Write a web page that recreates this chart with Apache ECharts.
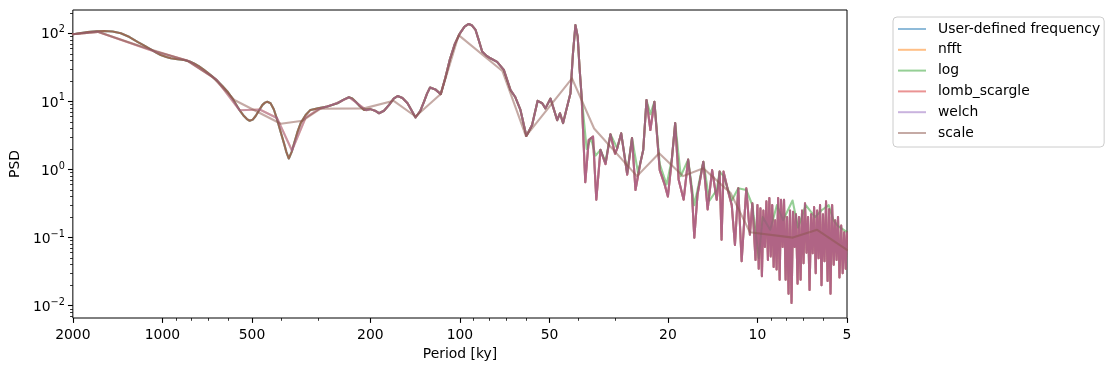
<!DOCTYPE html>
<html><head><meta charset="utf-8">
<script src="https://cdn.jsdelivr.net/npm/echarts@6/dist/echarts.min.js"></script>
<style>html,body{margin:0;padding:0;background:#fff}#c{width:1115px;height:371px}</style>
</head><body><div id="c"></div>
<script>
const seriesNames = ['User-defined frequency', 'nfft', 'log', 'lomb_scargle', 'welch', 'scale'];

// dense spectrum (periods in ky, PSD)
const mainPeriod = [2000,1900,1785,1670,1570,1470,1380,1290,1213,1150,1095,1050,1013,970,937,890,846,810,783,755,725,690,653,630,605,580,560,545,532,520,509,497,486,473,461,452,444,438,433,422,411,400,390,383,376,368,361,352,343,330,318,300,279,258,246,236,230,224,217,210,200,193,187,180,173,167,162,156,150,145,141,136,132,129,126,121,116,112,108,104,100,96.5,93.4,91,88.6,86.5,84.2,81.5,79,75,71.2,67.6,65.1,62.6,59.8,57.2,54.8,52.9,51.6,49.6,47.1,46.1,45.0,43.9,42.5,41.7,40.9,40.2,39.6,39.0,37.9,36.9,35.7,34.8,33.7,32.4,31.2,30.1,29.6,28.7,27.4,26.4,25.7,24.75,24.2,23.6,22.9,22.2,21.3,20.5,20.0,19.4,18.9,18.4,17.7,17.1,16.6,16.3,15.9,15.2,14.7,14.2,13.7,13.4,13.2,13.0,12.5,12.2,11.9,11.6,11.3,10.9,10.6,10.4,
  10.15,10.0,9.9,9.77,9.66,9.55,9.44,9.33,9.22,9.12,9.02,8.92,8.82,8.72,8.62,8.52,8.42,8.33,8.23,8.14,8.04,7.95,7.86,7.77,7.68,7.59,7.50,7.42,7.33,7.25,7.16,7.08,7.00,6.92,6.84,6.76,6.68,6.60,6.52,6.45,6.37,6.30,6.23,6.16,6.09,6.02,5.95,5.88,5.81,5.74,5.68,5.61,5.54,5.48,5.42,5.36,5.30,5.23,5.17,5.11,5.05,5.0];
const mainPsd = [97,100,104,107,108,106,100,88,75,66,58,52,48,45,43,41.5,40.5,38.5,36,33,29,24.5,20,17,14,10.8,8.4,7,6.1,5.5,5.2,5.4,6.1,7.4,8.9,9.6,9.9,9.8,9.4,7.6,5.3,3.5,2.4,1.8,1.45,1.8,2.4,3.5,4.8,6.3,7.5,7.9,8.4,9.4,10.6,11.5,11,9.9,8.5,7.5,7.7,7.3,6.7,7.3,8.9,11,12,11.2,9.4,7.2,5.8,7.2,9.9,13,16,15,12.8,22,42,70,100,125,137,130,112,80,54,47,43,38,29,14.7,11.5,7.5,3.1,4.5,10.2,9.4,7.9,11,5.3,6.7,4.8,7.5,13.2,50,132,90,30,12,0.65,2.7,3.05,0.36,1.94,1.2,3.3,1.7,2.05,3.4,0.84,2.9,0.5,1.24,1.94,10.5,3.8,9.9,0.98,0.6,0.4,1.4,4.8,0.71,0.36,1.4,0.45,0.1,0.43,1.3,0.26,0.98,0.36,0.93,0.093,0.93,0.45,0.3,0.078,0.53,0.045,0.53,0.11,0.32,
  0.047,0.30,0.035,0.27,0.027,0.25,0.073,0.34,0.047,0.38,0.053,0.3,0.037,0.18,0.034,0.38,0.024,0.36,0.073,0.36,0.024,0.2,0.015,0.25,0.011,0.24,0.073,0.22,0.021,0.2,0.024,0.25,0.042,0.32,0.06,0.2,0.017,0.22,0.059,0.28,0.03,0.25,0.05,0.3,0.02,0.22,0.045,0.34,0.023,0.26,0.015,0.3,0.04,0.18,0.047,0.2,0.026,0.15,0.03,0.12,0.035,0.12];

// coarse uniform-frequency part (nfft / welch) at long periods
const uniformLowPeriod = [2000,1650,1100,825,660,550,471,412,367,330,300,275,254,236,220,206];
const uniformLowPsd = [97,105,57,40,21,7.4,7.6,5.7,1.9,5.8,7.6,8.6,9.8,11.5,9.2,7.4];

// log-spaced frequencies at short periods
const logHighPeriod = [41.7,40.9,40.2,39.6,39.0,37.5,36.3,35.0,33.7,32.4,31.2,29.6,28.7,27.4,26.4,25.2,24.2,23.6,22.9,22.2,21.3,20.2,19.4,18.9,18.1,17.1,16.3,15.2,14.5,13.7,13.4,13.0,12.2,11.6,10.9,10.4,9.9,9.6,9.06,8.6,8.2,7.62,7.3,6.88,6.4,6.1,5.76,5.55,5.38,5.0];
const logHighPsd = [50,132,90,30,12,2.0,2.9,1.6,1.94,1.3,3.3,2.05,3.4,0.9,2.9,0.9,1.94,10.5,6.5,9.9,1.2,0.6,1.4,4.8,0.8,1.4,0.3,1.3,0.35,0.5,0.93,0.8,0.35,0.53,0.5,0.3,0.05,0.2,0.13,0.3,0.18,0.35,0.14,0.3,0.2,0.25,0.3,0.18,0.15,0.12];

// scale method
const scalePeriod = [2000,1650,1150,830,680,573,400,338,294,210,167,141,116,101,72,60,42,35.4,25.4,21.4,17.8,15.2,12.3,10.6,7.6,6.3,5.0];
const scalePsd = [97,105,62,40,23,10.5,4.7,5.2,7.8,7.9,10.2,6.0,12.8,94,28,3.1,21.8,4.0,0.8,1.73,0.8,1.04,0.45,0.12,0.1,0.13,0.066];

const xMajorTicks = [2000,1000,500,200,100,50,20,10,5];
const xMinorTicks = [900,800,700,600,400,300,90,80,70,60,40,30,9,8,7,6];
const yMajorTicks = [0.01,0.1,1,10,100];
const yMinorTicks = [0.007,0.008,0.009,0.02,0.03,0.04,0.05,0.06,0.07,0.08,0.09,0.2,0.3,0.4,0.5,0.6,0.7,0.8,0.9,2,3,4,5,6,7,8,9,20,30,40,50,60,70,80,90,200];

const colors = ['rgba(31,119,180,0.5)','rgba(255,127,14,0.5)','rgba(44,160,44,0.5)','rgba(214,39,40,0.5)','rgba(148,103,189,0.5)','rgba(140,86,75,0.5)'];

const zip = (a, b) => a.map((v, i) => [v, b[i]]);
const mainData = zip(mainPeriod, mainPsd);
const uniformData = zip(uniformLowPeriod, uniformLowPsd).concat(mainData.filter(d => d[0] <= 200));
const logData = mainData.filter(d => d[0] >= 42.5).concat(zip(logHighPeriod, logHighPsd));
const scaleData = zip(scalePeriod, scalePsd);
const dataSets = [mainData, uniformData, logData, mainData, uniformData, scaleData];

const FONT = 'DejaVu Sans';
const FS = 13.9;

const chart = echarts.init(document.getElementById('c'), null, {renderer: 'canvas'});
chart.setOption({
  animation: false,
  color: colors,
  grid: {left: 72, right: 268, top: 10, bottom: 53, show: true, borderColor: '#000', borderWidth: 1, backgroundColor: 'transparent'},
  legend: {
    orient: 'vertical', left: 893, top: 17,
    data: seriesNames,
    icon: 'rect', itemWidth: 28, itemHeight: 2, itemGap: 6.8,
    padding: [5, 4, 7, 5],
    borderColor: '#cccccc', borderWidth: 1, borderRadius: 4,
    backgroundColor: 'rgba(255,255,255,0.8)',
    textStyle: {fontFamily: FONT, fontSize: FS, color: '#000', padding: [0, 0, 0, 7]}
  },
  xAxis: [{
    type: 'log', inverse: true, min: 4.9999, max: 2000.001,
    name: 'Period [ky]', nameLocation: 'middle', nameGap: 28,
    nameTextStyle: {fontFamily: FONT, fontSize: FS, color: '#000'},
    axisLine: {show: false},
    splitLine: {show: false},
    axisTick: {show: true, length: 4.9, lineStyle: {color: '#000', width: 1.1}, customValues: xMajorTicks},
    axisLabel: {customValues: xMajorTicks, margin: 10, fontFamily: FONT, fontSize: FS, color: '#000',
      formatter: v => String(Math.round(v))}
  }, {
    type: 'log', inverse: true, min: 4.9999, max: 2000.001, position: 'bottom',
    axisLine: {show: false}, splitLine: {show: false},
    axisTick: {show: true, length: 2.8, lineStyle: {color: '#000', width: 0.8}, customValues: xMinorTicks},
    axisLabel: {show: false}
  }],
  yAxis: [{
    type: 'log', min: 0.0066, max: 219.8,
    name: 'PSD', nameLocation: 'middle', nameGap: 47, nameRotate: 90,
    nameTextStyle: {fontFamily: FONT, fontSize: FS, color: '#000'},
    axisLine: {show: false}, splitLine: {show: false},
    axisTick: {show: true, length: 4.9, lineStyle: {color: '#000', width: 1.1}, customValues: yMajorTicks},
    axisLabel: {customValues: yMajorTicks, margin: 8, fontFamily: FONT, fontSize: FS, color: '#000',
      formatter: v => {
        const e = Math.round(Math.log10(v));
        const s = String(e).replace('-', '\u2212');
        return '{b|10}{s|' + s + '}';
      },
      rich: {
        b: {fontFamily: FONT, fontSize: FS, color: '#000', lineHeight: 17, verticalAlign: 'bottom'},
        s: {fontFamily: FONT, fontSize: 9.7, color: '#000', lineHeight: 17, verticalAlign: 'top'}
      }
    }
  }, {
    type: 'log', min: 0.0066, max: 219.8, position: 'left',
    axisLine: {show: false}, splitLine: {show: false},
    axisTick: {show: true, length: 2.8, lineStyle: {color: '#000', width: 0.8}, customValues: yMinorTicks},
    axisLabel: {show: false}
  }],
  series: seriesNames.map((name, i) => ({
    name: name, type: 'line', xAxisIndex: 0, yAxisIndex: 0,
    data: dataSets[i], symbol: 'none', showSymbol: false, silent: true,
    lineStyle: {width: 2.08, color: colors[i], join: 'round', cap: 'round'},
    itemStyle: {color: colors[i]},
    clip: true
  }))
});
</script></body></html>
